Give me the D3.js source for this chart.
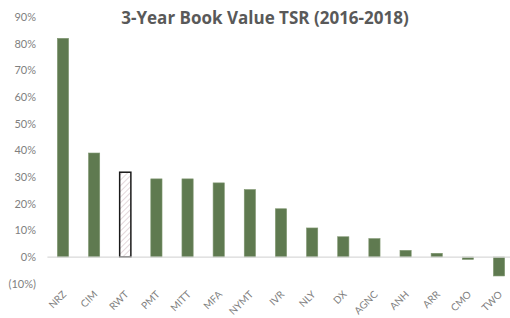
<!DOCTYPE html>
<html><head><meta charset="utf-8">
<script src="https://cdn.jsdelivr.net/npm/d3@7"></script>
<style>html,body{margin:0;padding:0;background:#fff;overflow:hidden}</style>
</head><body>
<script>
const categories = ["NRZ","CIM","RWT","PMT","MITT","MFA","NYMT","IVR","NLY","DX","AGNC","ANH","ARR","CMO","TWO"];
const values = [82, 39, 31.8, 29.3, 29.3, 27.8, 25.3, 18.1, 10.9, 7.6, 6.9, 2.5, 1.4, -0.9, -7.1];
const highlighted = ["RWT"];
const yTicks = [-10, 0, 10, 20, 30, 40, 50, 60, 70, 80, 90];
const title = "3-Year Book Value TSR (2016-2018)";

const W = 510, H = 318;
const svg = d3.select("body").append("svg").attr("width", W).attr("height", H)
  .style("font-family", "Lato, 'Open Sans', sans-serif");

const defs = svg.append("defs");
const pat = defs.append("pattern").attr("id","hatch").attr("patternUnits","userSpaceOnUse")
  .attr("width",4).attr("height",4).attr("patternTransform","rotate(45)");
pat.append("rect").attr("width",4).attr("height",4).attr("fill","#fff");
pat.append("line").attr("x1",0).attr("y1",0).attr("x2",0).attr("y2",4)
  .attr("stroke","#dccdd2").attr("stroke-width",1.6);

const x = d3.scaleBand().domain(categories).range([47.4, 514.6]).paddingInner(0.64).paddingOuter(0.32);
const y = d3.scaleLinear().domain([-10, 90]).range([283.7, 17]);

// y tick labels
svg.append("g").selectAll("text").data(yTicks).join("text")
  .attr("x", 36).attr("y", d => y(d)).attr("dy", "0.35em")
  .attr("text-anchor", "end").attr("fill", "#7f7f7f").attr("font-size", 11)
  .text(d => d < 0 ? `(${Math.abs(d)}%)` : `${d}%`);

// bars
svg.append("g").selectAll("rect").data(categories).join("rect")
  .attr("x", d => x(d))
  .attr("width", x.bandwidth())
  .attr("y", (d,i) => y(Math.max(0, values[i])))
  .attr("height", (d,i) => Math.abs(y(values[i]) - y(0)))
  .attr("fill", d => highlighted.includes(d) ? "url(#hatch)" : "#5f7a50")
  .attr("stroke", d => highlighted.includes(d) ? "#1a1a1a" : "#7f9670")
  .attr("stroke-width", d => highlighted.includes(d) ? 1.5 : 0.6);

// zero line
svg.append("line").attr("x1", 47.4).attr("x2", 514.6).attr("y1", y(0)).attr("y2", y(0))
  .attr("stroke", "#d9d9d9").attr("stroke-width", 1.2);

// x labels
svg.append("g").selectAll("text").data(categories).join("text")
  .attr("transform", d => `translate(${x(d) + x.bandwidth()/2 + 4},${295}) rotate(-45)`)
  .attr("text-anchor", "end").attr("fill", "#7f7f7f").attr("font-size", 10)
  .text(d => d);

// title
svg.append("text").attr("x", 265).attr("y", 24).attr("text-anchor", "middle")
  .attr("fill", "#595959").attr("font-size", 17).attr("font-weight", "bold")
  .style("font-family", "'Open Sans', Lato, sans-serif")
  .text(title);
</script>
</body></html>
